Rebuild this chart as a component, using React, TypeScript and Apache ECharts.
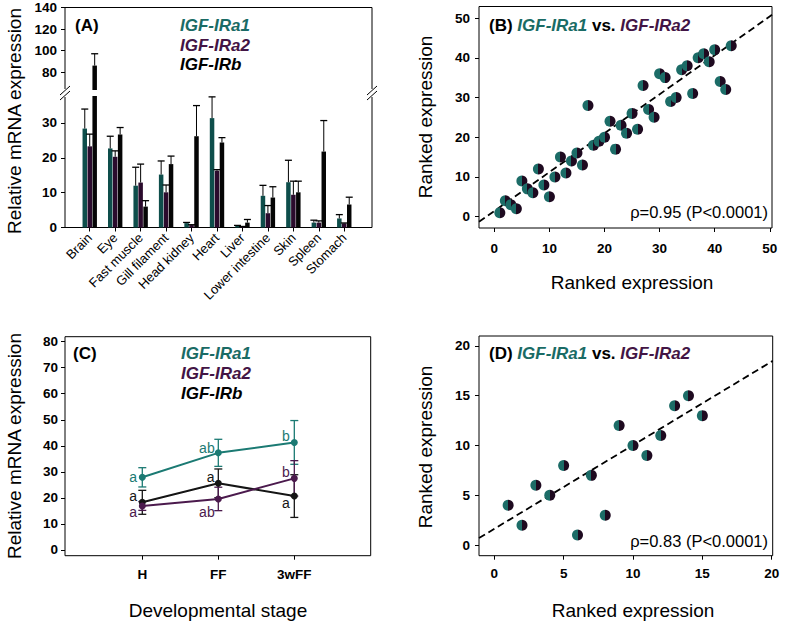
import React, { useEffect, useRef } from 'react';
import * as echarts from 'echarts';

const FONT = '"Liberation Sans", Arial, Helvetica, sans-serif';
const TXT_TEAL = '#1a6b65';
const TXT_PURPLE = '#431545';
const BAR_TEAL = '#0e4e4b';
const BAR_PURPLE = '#2b0b2d';
const BAR_BLACK = '#050505';
const LINE_TEAL = '#1b7a73';
const LINE_PURPLE = '#4b1a4d';
const LINE_BLACK = '#151515';

// Panel A
const tissues = ['Brain', 'Eye', 'Fast muscle', 'Gill filament', 'Head kidney', 'Heart', 'Liver', 'Lower intestine', 'Skin', 'Spleen', 'Stomach'];
const ra1Mean = [28.4, 22.7, 12.0, 15.2, 1.25, 31.4, 0.5, 9.1, 13.0, 1.4, 2.6];
const ra1Err = [5.6, 3.5, 5.3, 3.9, 0.2, 6.1, 0.1, 3.0, 6.3, 0.7, 1.1];
const ra2Mean = [23.3, 20.3, 12.9, 10.1, 0.7, 16.3, 0.2, 4.1, 9.4, 1.4, 1.2];
const ra2Err = [3.5, 1.7, 5.3, 2.1, 0.1, 0.3, 0.1, 2.2, 3.9, 0.5, 0.1];
const rbMean = [86, 26.7, 6.0, 18.2, 26.2, 24.4, 1.4, 8.6, 10.1, 21.8, 6.6];
const rbErr = [11, 2.0, 1.7, 2.3, 8.8, 1.4, 0.9, 3.1, 3.2, 8.9, 2.1];
const lowTicks = [0, 10, 20, 30];
const highTicks = [80, 100, 120, 140];
const LOW_MAX = 37.75;
const HIGH_MIN = 63.3;

// Panel B
const rankB = [
  [1, 1], [2, 4], [3, 3], [4, 2], [5, 9], [6, 7], [7, 6], [8, 12], [9, 8], [10, 5],
  [11, 10], [12, 15], [13, 11], [14, 14], [15, 16], [16, 13], [17, 28], [18, 18], [19, 19], [20, 20],
  [21, 24], [22, 17], [23, 23], [24, 21], [25, 26], [26, 22], [27, 33], [28, 27], [29, 25], [30, 36],
  [31, 35], [32, 29], [33, 30], [34, 37], [35, 38], [36, 31], [37, 40], [38, 41], [39, 39], [40, 42],
  [41, 34], [42, 32], [43, 43],
];
const fitB = [[-2.78, -1.3], [50.4, 50.8]];
const ticksB = [0, 10, 20, 30, 40, 50];

// Panel C
const stages = ['H', 'FF', '3wFF'];
const stageA1 = [27.9, 37.3, 41.3];
const stageA1Err = [3.7, 5.2, 8.4];
const stageA2 = [16.9, 19.6, 27.5];
const stageA2Err = [1.7, 4.5, 6.8];
const stageB = [18.3, 25.6, 20.7];
const stageBErr = [4.6, 5.5, 8.2];
const ticksCY = [0, 10, 20, 30, 40, 50, 60, 70, 80];
const lettersA1 = [[-0.12, 28.2, 'a'], [0.85, 39.3, 'ab'], [1.89, 43.8, 'b']];
const lettersB = [[-0.12, 20.7, 'a'], [0.9, 28.2, 'a'], [1.89, 17.9, 'a']];
const lettersA2 = [[-0.12, 14.6, 'a'], [0.85, 14.7, 'ab'], [1.89, 29.8, 'b']];

// Panel D
const rankD = [
  [1, 4], [2, 2], [3, 6], [4, 5], [5, 8], [6, 1], [7, 7], [8, 3], [9, 12], [10, 10],
  [11, 9], [12, 11], [13, 14], [14, 15], [15, 13],
];
const fitD = [[-1.1, 0.7], [20.07, 18.5]];
const ticksDX = [0, 5, 10, 15, 20];
const ticksDY = [0, 5, 10, 15, 20];

const BAR_W = 4.5;
const BAR_STEP = 4.95;

const tickLabel = { color: '#000', fontSize: 13.5, fontWeight: 'bold', fontFamily: FONT };
const tickStyle = { show: true, length: 4, lineStyle: { color: '#000', width: 1 } };

function valueAxis(gridIndex: number, min: number, max: number, ticks: number[], margin: number, extra: any = {}) {
  return {
    type: 'value', gridIndex, min, max,
    axisLine: { show: false, onZero: false },
    splitLine: { show: false },
    axisTick: { ...tickStyle, customValues: ticks },
    axisLabel: { ...tickLabel, margin, customValues: ticks, showMinLabel: true, showMaxLabel: true, hideOverlap: false, ...(extra.axisLabel || {}) },
    ...(extra.rest || {}),
  };
}

const halfCircle = {
  type: 'linear', x: 0, y: 0, x2: 1, y2: 0,
  colorStops: [
    { offset: 0, color: '#1c6c67' }, { offset: 0.5, color: '#1c6c67' },
    { offset: 0.5, color: '#1e0a20' }, { offset: 1, color: '#1e0a20' },
  ],
};

function barErrRender(params: any, api: any) {
  const i = api.value(0);
  const mean = api.value(1);
  const top = api.value(2);
  const k = api.value(3);
  const b = api.coord([i, mean]);
  const t = api.coord([i, top]);
  const x = b[0] + (k - 1) * BAR_STEP;
  return {
    type: 'group',
    children: [
      { type: 'line', shape: { x1: x, y1: b[1], x2: x, y2: t[1] }, style: { stroke: '#000', lineWidth: 1 } },
      { type: 'line', shape: { x1: x - 3.5, y1: t[1], x2: x + 3.5, y2: t[1] }, style: { stroke: '#000', lineWidth: 1.3 } },
    ],
  };
}

function stageErrRender(color: string) {
  return (params: any, api: any) => {
    const x = api.value(0);
    const m = api.value(1);
    const e = api.value(2);
    const hi = api.coord([x, m + e]);
    const lo = api.coord([x, m - e]);
    return {
      type: 'group',
      children: [
        { type: 'line', shape: { x1: hi[0], y1: hi[1], x2: lo[0], y2: lo[1] }, style: { stroke: color, lineWidth: 1.3 } },
        { type: 'line', shape: { x1: hi[0] - 4, y1: hi[1], x2: hi[0] + 4, y2: hi[1] }, style: { stroke: color, lineWidth: 1.3 } },
        { type: 'line', shape: { x1: lo[0] - 4, y1: lo[1], x2: lo[0] + 4, y2: lo[1] }, style: { stroke: color, lineWidth: 1.3 } },
      ],
    };
  };
}

function buildOption() {
  const means = [ra1Mean, ra2Mean, rbMean];
  const errs = [ra1Err, ra2Err, rbErr];
  const barColors = [BAR_TEAL, BAR_PURPLE, BAR_BLACK];
  const series: any[] = [];

  means.forEach((arr, k) => {
    series.push({
      type: 'bar', xAxisIndex: 0, yAxisIndex: 0, data: arr, barWidth: BAR_W, barGap: '10%', clip: true,
      itemStyle: { color: barColors[k] }, silent: true,
    });
  });
  means.forEach((arr, k) => {
    series.push({
      type: 'bar', xAxisIndex: 1, yAxisIndex: 1, data: arr.map((v) => (v > HIGH_MIN ? v : '-')), barWidth: BAR_W, barGap: '10%', clip: true,
      itemStyle: { color: barColors[k] }, silent: true,
    });
  });
  const lowErr: any[] = [];
  const highErr: any[] = [];
  means.forEach((arr, k) => {
    arr.forEach((v, i) => {
      const top = v + errs[k][i];
      if (top <= LOW_MAX) lowErr.push([i, v, top, k]);
      else if (v > HIGH_MIN) highErr.push([i, v, top, k]);
    });
  });
  series.push({ type: 'custom', xAxisIndex: 0, yAxisIndex: 0, data: lowErr, renderItem: barErrRender, silent: true, z: 5 });
  series.push({ type: 'custom', xAxisIndex: 1, yAxisIndex: 1, data: highErr, renderItem: barErrRender, silent: true, z: 5 });

  series.push({
    type: 'line', xAxisIndex: 2, yAxisIndex: 2, data: fitB, symbol: 'none', silent: true,
    lineStyle: { color: '#000', width: 1.8, type: [7, 4] }, z: 2,
  });
  series.push({
    type: 'scatter', xAxisIndex: 2, yAxisIndex: 2, data: rankB, symbolSize: 11, silent: true,
    itemStyle: { color: halfCircle, opacity: 1 }, z: 3,
  });

  const stageSets = [
    { m: stageA1, e: stageA1Err, c: LINE_TEAL, letters: lettersA1 },
    { m: stageB, e: stageBErr, c: LINE_BLACK, letters: lettersB },
    { m: stageA2, e: stageA2Err, c: LINE_PURPLE, letters: lettersA2 },
  ];
  stageSets.forEach((s) => {
    series.push({
      type: 'custom', xAxisIndex: 3, yAxisIndex: 3, data: s.m.map((v, i) => [i, v, s.e[i]]),
      renderItem: stageErrRender(s.c), silent: true, z: 3,
    });
    series.push({
      type: 'line', xAxisIndex: 3, yAxisIndex: 3, data: s.m.map((v, i) => [i, v]),
      symbol: 'circle', symbolSize: 7, silent: true,
      lineStyle: { color: s.c, width: 2 }, itemStyle: { color: s.c, opacity: 1 }, z: 4,
    });
    series.push({
      type: 'scatter', xAxisIndex: 3, yAxisIndex: 3, data: s.letters, symbolSize: 1, silent: true,
      itemStyle: { color: 'rgba(0,0,0,0)', opacity: 1 }, z: 6,
      label: {
        show: true, position: 'inside', color: s.c, fontSize: 14, lineHeight: 14, fontFamily: FONT, opacity: 1,
        textBorderWidth: 0, formatter: (p: any) => p.data[2],
      },
    });
  });

  series.push({
    type: 'line', xAxisIndex: 4, yAxisIndex: 4, data: fitD, symbol: 'none', silent: true,
    lineStyle: { color: '#000', width: 1.8, type: [7, 4] }, z: 2,
  });
  series.push({
    type: 'scatter', xAxisIndex: 4, yAxisIndex: 4, data: rankD, symbolSize: 11, silent: true,
    itemStyle: { color: halfCircle, opacity: 1 }, z: 3,
  });

  const line = (x1: number, y1: number, x2: number, y2: number) => ({
    type: 'line', shape: { x1, y1, x2, y2 }, style: { stroke: '#000', lineWidth: 1 }, silent: true,
  });
  const text = (t: string, x: number, y: number, o: any = {}) => ({
    type: 'text', x, y, rotation: o.rotation || 0, silent: true,
    style: {
      text: t, fill: o.fill || '#000', fontSize: o.fontSize || 19, fontFamily: FONT,
      fontWeight: o.fontWeight || 'normal', fontStyle: o.fontStyle || 'normal',
      align: o.align || 'center', verticalAlign: 'middle', textAlign: o.align || 'center', textVerticalAlign: 'middle',
      ...(o.rich ? { rich: o.rich } : {}),
    },
  });
  const richTitle = {
    b: { fontSize: 17, fontWeight: 'bold', fill: '#000', color: '#000', fontFamily: FONT },
    t: { fontSize: 17, fontWeight: 'bold', fontStyle: 'italic', fill: TXT_TEAL, color: TXT_TEAL, fontFamily: FONT },
    p: { fontSize: 17, fontWeight: 'bold', fontStyle: 'italic', fill: TXT_PURPLE, color: TXT_PURPLE, fontFamily: FONT },
  };
  const legendItem = (t: string, x: number, y: number, c: string) =>
    text(t, x, y, { fontSize: 17, fontWeight: 'bold', fontStyle: 'italic', fill: c, align: 'left' });

  const graphic: any[] = [
    line(65, 7.5, 372, 7.5),
    line(65, 227.5, 372, 227.5),
    line(65, 7.5, 65, 89),
    line(65, 97, 65, 227.5),
    line(372, 7.5, 372, 89),
    line(372, 97, 372, 227.5),
    line(60, 95, 70, 86), line(60, 100, 70, 91),
    line(367, 95, 377, 86), line(367, 100, 377, 91),
    text('Relative mRNA expression', 14, 121, { rotation: Math.PI / 2 }),
    text('Relative mRNA expression', 14, 446, { rotation: Math.PI / 2 }),
    text('Ranked expression', 425, 117, { rotation: Math.PI / 2 }),
    text('Ranked expression', 425, 447, { rotation: Math.PI / 2 }),
    text('Ranked expression', 632, 282),
    text('Ranked expression', 633, 610),
    text('Developmental stage', 218, 610),
    text('(A)', 75, 25, { fontSize: 17, fontWeight: 'bold', align: 'left' }),
    legendItem('IGF-IRa1', 180, 25, TXT_TEAL),
    legendItem('IGF-IRa2', 180, 45, TXT_PURPLE),
    legendItem('IGF-IRb', 180, 64, '#000'),
    text('(C)', 73, 353, { fontSize: 17, fontWeight: 'bold', align: 'left' }),
    legendItem('IGF-IRa1', 181, 353, TXT_TEAL),
    legendItem('IGF-IRa2', 181, 373, TXT_PURPLE),
    legendItem('IGF-IRb', 181, 393, '#000'),
    text('{b|(B)} {t|IGF-IRa1} {b|vs.} {p|IGF-IRa2}', 489, 25, { fontSize: 17, fontWeight: 'bold', align: 'left', rich: richTitle }),
    text('{b|(D)} {t|IGF-IRa1} {b|vs.} {p|IGF-IRa2}', 489, 353, { fontSize: 17, fontWeight: 'bold', align: 'left', rich: richTitle }),
    text('\u03c1=0.95 (P<0.0001)', 768, 212, { fontSize: 16.5, align: 'right' }),
    text('\u03c1=0.83 (P<0.0001)', 768, 541, { fontSize: 16.5, align: 'right' }),
  ];

  return {
    animation: false,
    backgroundColor: '#fff',
    textStyle: { fontFamily: FONT },
    grid: [
      { left: 77, top: 96, width: 280, height: 131.5, outerBoundsMode: 'none', containLabel: false },
      { left: 77, top: 7.5, width: 280, height: 82.5, outerBoundsMode: 'none', containLabel: false },
      { left: 479, top: 6.5, width: 293, height: 221.5, show: true, borderColor: '#000', borderWidth: 1, outerBoundsMode: 'none', containLabel: false },
      { left: 65, top: 336.7, width: 305.7, height: 219, show: true, borderColor: '#000', borderWidth: 1, outerBoundsMode: 'none', containLabel: false },
      { left: 479, top: 336, width: 293.7, height: 219.7, show: true, borderColor: '#000', borderWidth: 1, outerBoundsMode: 'none', containLabel: false },
    ],
    xAxis: [
      {
        type: 'category', gridIndex: 0, data: tissues,
        axisLine: { show: false, onZero: false },
        axisTick: { ...tickStyle, alignWithLabel: true },
        axisLabel: { color: '#000', fontSize: 13, fontFamily: FONT, rotate: 45, interval: 0, margin: 8, hideOverlap: false },
        splitLine: { show: false },
      },
      { type: 'category', gridIndex: 1, data: tissues, show: false },
      valueAxis(2, -2.78, 50.4, ticksB, 13),
      valueAxis(3, -1.017, 3.005, [0, 1, 2], 12, { axisLabel: { formatter: (v: number) => stages[Math.round(v)] } }),
      valueAxis(4, -1.1, 20.07, ticksDX, 11),
    ],
    yAxis: [
      valueAxis(0, 0, LOW_MAX, lowTicks, 8, { rest: { offset: 12 } }),
      valueAxis(1, HIGH_MIN, 140, highTicks, 8, { rest: { offset: 12 } }),
      valueAxis(2, -2.85, 52.9, ticksB, 9),
      valueAxis(3, -2.2, 81.9, ticksCY, 7),
      valueAxis(4, -1.07, 21.0, ticksDY, 9),
    ],
    series,
    graphic,
  };
}

export default function App() {
  const ref = useRef<HTMLDivElement>(null);
  useEffect(() => {
    if (!ref.current) return;
    const chart = echarts.init(ref.current, null, { renderer: 'svg' });
    chart.setOption(buildOption() as any);
    return () => chart.dispose();
  }, []);
  return (
    <div
      ref={ref}
      style={{ position: 'fixed', left: 0, top: 0, width: 787, height: 623, background: '#fff' }}
    />
  );
}
